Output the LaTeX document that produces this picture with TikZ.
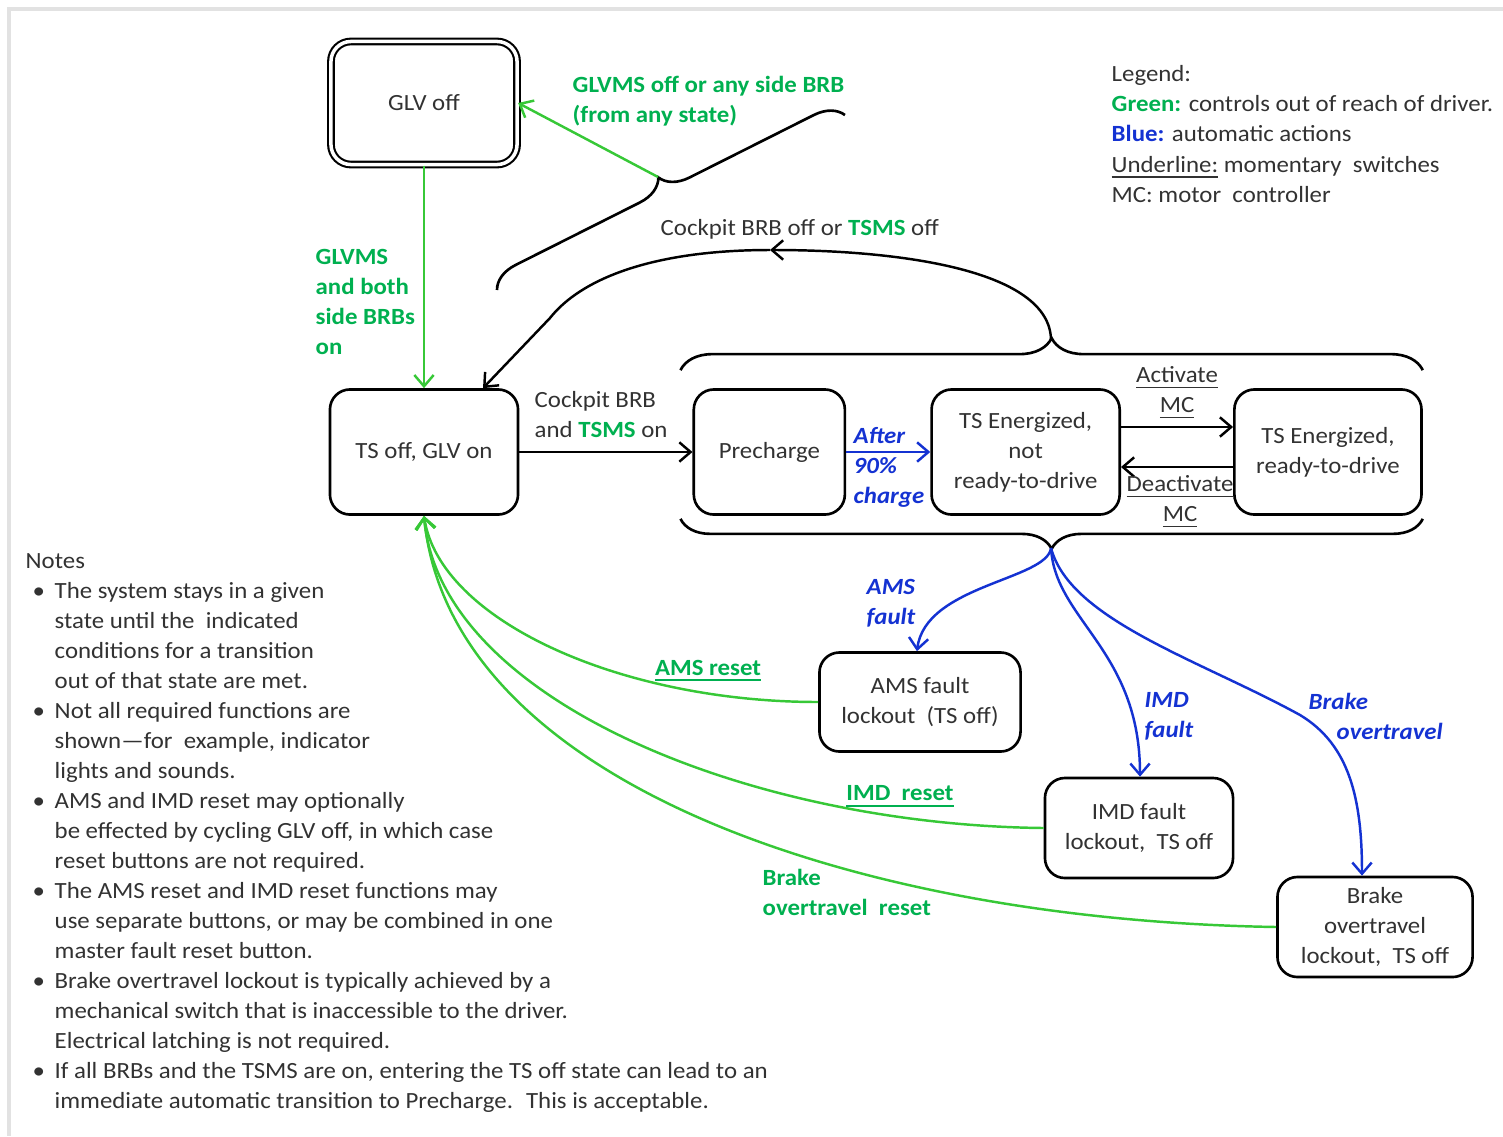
\documentclass[tikz,border=0pt]{standalone}
\usepackage{fontspec}
\setmainfont{Carlito}[FakeStretch=1.07]
\usetikzlibrary{positioning, arrows.meta, decorations.pathreplacing}

\definecolor{txtgrey}{RGB}{50,50,50}
\definecolor{ctrlgreen}{RGB}{0,176,80}
\definecolor{linegreen}{RGB}{55,200,55}
\definecolor{autoblue}{RGB}{20,50,210}
\definecolor{framegrey}{RGB}{226,226,226}

\newcommand{\grn}[1]{\textcolor{ctrlgreen}{\textbf{#1}}}
\newcommand{\nbul}{\hspace*{0.07cm}\makebox[0.22cm][l]{\textbullet}}
\newcommand{\nind}{\hspace*{0.29cm}}

\tikzset{
	statebox/.style={draw=black, line width=0.75pt, rounded corners=0.2cm, align=center,
		minimum height=1.25cm, text=txtgrey, inner sep=1pt},
	lbl/.style={align=left, inner sep=0pt, text=txtgrey},
	greenlbl/.style={lbl, text=ctrlgreen, font=\fontsize{6.6}{8.54}\selectfont\bfseries},
	bluelbl/.style={lbl, text=autoblue, font=\fontsize{6.6}{8.54}\selectfont\bfseries\itshape},
	bracket/.style={draw=black, line width=0.75pt, decorate, decoration={brace, amplitude=#1}},
	ctrl/.style={->, draw=linegreen, line width=0.7pt},
	auto/.style={->, draw=autoblue, line width=0.7pt},
	manual/.style={->, draw=black, line width=0.7pt}
}

\begin{document}
\begin{tikzpicture}[x=0.01cm, y=-0.01cm, font=\fontsize{6.6}{8.54}\selectfont,
	>={Straight Barb[length=3.2pt,width=5.5pt]}]

	\useasboundingbox (0,0) rectangle (1503,1136);
	\draw[framegrey, line width=0.9pt] (9,1136) -- (9,9) -- (1503,9);

	% states
	\node[statebox, double, double distance=1pt, line width=0.6pt, minimum width=1.86cm,
		minimum height=1.23cm] (glv) at (424,103) {GLV off};
	\node[statebox, minimum width=1.88cm] (ts) at (424,452) {TS off, GLV on};
	\node[statebox, minimum width=1.51cm, right=1.73cm of ts] (pre) {Precharge};
	\node[statebox, minimum width=1.88cm, right=0.84cm of pre] (ten) {TS Energized,\\not\\ready-to-drive};
	\node[statebox, minimum width=1.87cm, right=1.12cm of ten] (rtd) {TS Energized,\\ready-to-drive};
	\node[statebox, minimum width=2.01cm, minimum height=0.99cm] (ams) at (920,702) {AMS fault\\lockout~ (TS off)};
	\node[statebox, minimum width=1.88cm, minimum height=1cm] (imd) at (1139,828) {IMD fault\\lockout,~ TS off};
	\node[statebox, minimum width=1.95cm, minimum height=1cm] (brk) at (1375,927) {Brake\\overtravel\\lockout,~ TS off};

	% braces
	\draw[bracket=0.32cm] ([xshift=-0.12cm, yshift=0.18cm]pre.north west) -- ([yshift=0.18cm]rtd.north east);
	\draw[bracket=0.3cm] ([yshift=-0.03cm]rtd.south east) -- ([xshift=-0.12cm, yshift=-0.03cm]pre.south west);
	\draw[bracket=0.28cm] (497,290) -- (845,115);
	\coordinate (toptip) at (1051,340);
	\coordinate (bottip) at (1051,548);
	\coordinate (diagtip) at (658,177);
	\coordinate (cbmid) at (770,250);

	% transitions
	\draw[ctrl] (diagtip) -- (glv.east);
	\draw[ctrl] (glv.south) -- (ts.north);
	\draw[manual] (ts.east) -- (pre.west);
	\draw[auto] (pre.east) -- (ten.west);
	\draw[manual] ([yshift=0.25cm]ten.east) -- ([yshift=0.25cm]rtd.west);
	\draw[manual] ([yshift=-0.15cm]rtd.west) -- ([yshift=-0.15cm]ten.east);
	\draw[manual] (toptip) .. controls (1050,270) and (900,250) .. (cbmid);
	\draw[manual] (cbmid) .. controls (650,250) and (580,280) .. (550,318) -- ([xshift=0.59cm]ts.north);

	\draw[auto] (bottip) .. controls (1047,580) and (925,585) .. ([xshift=-0.03cm]ams.north);
	\draw[auto] (bottip) .. controls (1055,620) and (1140,650) .. ([xshift=0.01cm]imd.north);
	\draw[auto] (bottip) .. controls (1070,620) and (1200,660) .. (1300,715)
		.. controls (1350,745) and (1362,800) .. ([xshift=-0.13cm]brk.north);

	\draw[ctrl] (ams.west) .. controls (620,702) and (440,620) .. (ts.south);
	\draw[ctrl] (imd.west) .. controls (750,825) and (440,700) .. (ts.south);
	\draw[ctrl] (brk.west) .. controls (850,920) and (450,780) .. (ts.south);

	% labels
	\node[greenlbl, anchor=west] (anyoff) at (572,101) {GLVMS off or any side BRB\\(from any state)};
	\node[greenlbl, anchor=west] (glvon) at (315,302) {GLVMS\\and both\\side BRBs\\on};
	\node[lbl, anchor=west] (cbon) at (534,415) {Cockpit BRB\\and \grn{TSMS} on};
	\node[lbl, anchor=west] (cboff) at (660,229) {Cockpit BRB off or \grn{TSMS} off};
	\node[bluelbl, anchor=west] (charge) at (853,467) {After\\90\%\\charge};
	\node[lbl, align=center] (act) at (1177,393) {\underline{Activate}\\\underline{MC}};
	\node[lbl, align=center] (deact) at (1180,502) {\underline{Deactivate}\\\underline{MC}};
	\node[bluelbl, anchor=west] (amsflt) at (866,603) {AMS\\fault};
	\node[bluelbl, anchor=west] (imdflt) at (1144,716) {IMD\\fault};
	\node[bluelbl, anchor=west] (brkovt) at (1308,716) {Brake\\\hspace*{0.28cm}overtravel};
	\node[greenlbl] (amsrst) at (708,671) {\underline{AMS reset}};
	\node[greenlbl] (imdrst) at (900,797) {\underline{IMD~ reset}};
	\node[greenlbl, anchor=west] (brkrst) at (762,892) {Brake\\overtravel~ reset};

	% legend and notes
	\node[lbl, anchor=west] (legend) at (1111,134) {Legend:\\
		\grn{Green:} controls out of reach of driver.\\
		\textcolor{autoblue}{\textbf{Blue:}} automatic actions\\
		\underline{Underline:} momentary~ switches\\
		MC: motor~ controller};
	\node[lbl, anchor=west] (notes) at (25,833) {Notes\\
		\nbul The system stays in a given\\
		\nind state until the~ indicated\\
		\nind conditions for a transition\\
		\nind out of that state are met.\\
		\nbul Not all required functions are\\
		\nind shown---for~ example, indicator\\
		\nind lights and sounds.\\
		\nbul AMS and IMD reset may optionally\\
		\nind be effected by cycling GLV off, in which case\\
		\nind reset buttons are not required.\\
		\nbul The AMS reset and IMD reset functions may\\
		\nind use separate buttons, or may be combined in one\\
		\nind master fault reset button.\\
		\nbul Brake overtravel lockout is typically achieved by a\\
		\nind mechanical switch that is inaccessible to the driver.\\
		\nind Electrical latching is not required.\\
		\nbul If all BRBs and the TSMS are on, entering the TS off state can lead to an\\
		\nind immediate automatic transition to Precharge.~ This is acceptable.};

\end{tikzpicture}
\end{document}
